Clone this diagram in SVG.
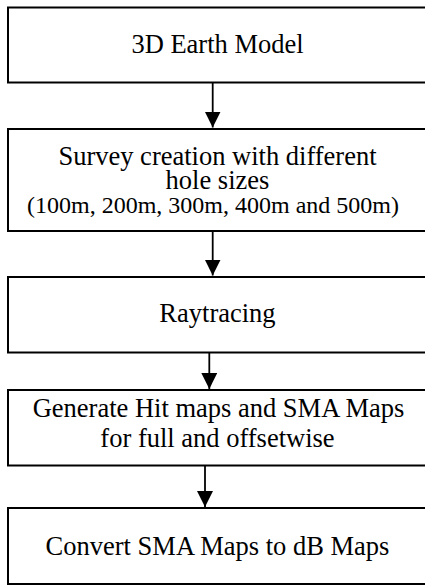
<svg xmlns="http://www.w3.org/2000/svg" width="425" height="585" viewBox="0 0 425 585">
<style>
.box{fill:#fff;stroke:#000;stroke-width:2}
.t{font-family:"Liberation Serif","Times New Roman",serif;font-size:26.5px;fill:#000;text-anchor:middle}
.s{font-size:24px}
.c{stroke:#000;stroke-width:1.8;fill:none}
</style>
<defs>
<marker id="ah" viewBox="0 0 16 16" refX="16" refY="8" markerWidth="16" markerHeight="16" markerUnits="userSpaceOnUse" orient="auto">
<path d="M0,0 L16,8 L0,16 Z" fill="#000"/>
</marker>
</defs>
<rect width="425" height="585" fill="#fff"/>
<g id="n1"><rect class="box" x="8" y="7.5" width="420" height="75"/><text class="t" x="217.5" y="53">3D Earth Model</text></g>
<g id="n2"><rect class="box" x="8" y="129" width="420" height="102"/><text class="t" x="217.5" y="165">Survey creation with different</text><text class="t" x="217.5" y="189">hole sizes</text><text class="t s" x="213" y="213">(100m, 200m, 300m, 400m and 500m)</text></g>
<g id="n3"><rect class="box" x="8" y="277" width="420" height="75.5"/><text class="t" x="217.5" y="322">Raytracing</text></g>
<g id="n4"><rect class="box" x="8" y="390" width="420" height="75.5"/><text class="t" x="218.5" y="417">Generate Hit maps and SMA Maps</text><text class="t" x="217.5" y="447">for full and offsetwise</text></g>
<g id="n5"><rect class="box" x="8" y="508" width="420" height="76"/><text class="t" x="217.5" y="555">Convert SMA Maps to dB Maps</text></g>
<g id="connectors">
<line class="c" x1="212.7" y1="83" x2="212.7" y2="127.5" marker-end="url(#ah)"/>
<line class="c" x1="212.7" y1="231.5" x2="212.7" y2="275.5" marker-end="url(#ah)"/>
<line class="c" x1="209.3" y1="353" x2="209.3" y2="389" marker-end="url(#ah)"/>
<line class="c" x1="205" y1="466" x2="205" y2="507" marker-end="url(#ah)"/>
</g>
</svg>
